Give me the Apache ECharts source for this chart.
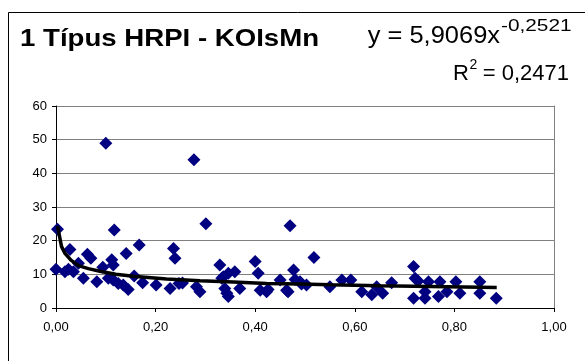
<!DOCTYPE html>
<html>
<head>
<meta charset="utf-8">
<script src="https://cdn.jsdelivr.net/npm/echarts@6/dist/echarts.min.js"></script>
<style>html,body{margin:0;padding:0;background:#fff}#c{width:585px;height:361px}</style>
</head>
<body>
<div id="c"></div>
<script>
const xValues = [0.000,0.003,0.018,0.025,0.028,0.035,0.045,0.055,0.063,0.070,0.082,0.094,0.100,0.105,0.112,0.115,0.115,0.117,0.125,0.135,0.141,0.145,0.157,0.167,0.174,0.201,0.229,0.236,0.239,0.247,0.254,0.277,0.282,0.289,0.301,0.329,0.333,0.336,0.339,0.343,0.346,0.346,0.359,0.369,0.400,0.406,0.410,0.423,0.426,0.450,0.463,0.466,0.470,0.477,0.480,0.490,0.493,0.503,0.518,0.550,0.574,0.592,0.614,0.634,0.644,0.656,0.674,0.718,0.718,0.721,0.727,0.741,0.741,0.748,0.768,0.771,0.785,0.803,0.811,0.851,0.851,0.884];
const yValues = [11.5,23.4,10.8,11.5,17.4,10.8,13.3,8.8,16.0,14.8,7.8,12.1,48.9,8.8,14.3,12.8,8.3,23.2,7.3,6.8,16.2,5.5,9.5,18.7,7.5,6.8,5.8,17.7,14.8,7.3,7.4,44.0,6.3,4.8,25.0,12.8,8.8,9.3,5.8,4.4,3.4,10.3,10.8,5.8,13.8,10.3,5.3,4.8,5.5,8.3,5.3,4.8,24.4,11.3,8.5,7.8,7.1,6.8,15.0,6.3,8.3,8.3,4.8,3.9,6.3,4.4,7.5,12.3,2.9,8.8,8.0,2.9,4.8,7.8,3.4,7.8,4.8,7.8,4.4,7.8,4.4,2.9];
const trendX = [0.003,0.011,0.018,0.030,0.045,0.065,0.088,0.120,0.155,0.222,0.289,0.356,0.423,0.490,0.550,0.651,0.785,0.885];
const trendY = [24.4,18.3,16.2,14.2,12.6,11.7,10.9,10.0,9.4,8.6,8.1,7.7,7.3,7.1,6.9,6.6,6.3,6.1];
const yTicks = [0,10,20,30,40,50,60];
const xTicks = ['0,00','0,20','0,40','0,60','0,80','1,00'];
const titleText = '1 Típus HRPI - KOIsMn';
const eqMain = 'y = 5,9069x';
const eqExp = '-0,2521';
const r2Label = 'R';
const r2Rest = ' = 0,2471';

const FONT = '"Liberation Sans", Arial, sans-serif';
const chart = echarts.init(document.getElementById('c'), null, {renderer: 'canvas'});
const pts = xValues.map((x, i) => [x, yValues[i]]);
const trend = trendX.map((x, i) => [x, trendY[i]]);

chart.setOption({
  animation: false,
  backgroundColor: '#fff',
  textStyle: {fontFamily: FONT},
  grid: {left: 56, top: 106, right: 31, bottom: 53, containLabel: false},
  xAxis: {
    type: 'value', min: 0, max: 1, interval: 0.2,
    axisLine: {onZero: false, lineStyle: {color: '#000', width: 1}},
    axisTick: {show: true, inside: false, length: 4, lineStyle: {color: '#000'}},
    splitLine: {show: false},
    axisLabel: {color: '#000', fontSize: 13, fontFamily: FONT, margin: 13,
      formatter: v => xTicks[Math.round(v / 0.2)]}
  },
  yAxis: [{
    type: 'value', min: 0, max: 60, interval: 10,
    axisLine: {show: true, lineStyle: {color: '#000', width: 1}},
    axisTick: {show: true, inside: false, length: 4, lineStyle: {color: '#000'}},
    splitLine: {show: true, lineStyle: {color: '#808080', width: 1}},
    axisLabel: {color: '#000', fontSize: 13, fontFamily: FONT, margin: 9,
      formatter: v => String(yTicks[Math.round(v / 10)])}
  }, {
    type: 'value', min: 0, max: 60, interval: 10, position: 'right',
    axisLine: {show: true, lineStyle: {color: '#808080', width: 1}},
    axisTick: {show: false}, axisLabel: {show: false}, splitLine: {show: false}
  }],
  series: [{
    type: 'scatter', data: pts, symbol: 'diamond', symbolSize: 13,
    itemStyle: {color: '#000080', opacity: 1}, z: 2
  }, {
    type: 'line', data: trend, smooth: false, showSymbol: false, symbol: 'none',
    lineStyle: {color: '#000', width: 3.5}, z: 3
  }],
  graphic: [
    {type: 'rect', shape: {x: 8.5, y: 12.5, width: 700, height: 500}, style: {fill: null, stroke: '#000', lineWidth: 1}, silent: true},
    {type: 'text', x: 20, y: 27, scaleX: 1.15, style: {text: titleText, font: 'bold 24px ' + FONT, fill: '#000', textAlign: 'left', textVerticalAlign: 'top'}},
    {type: 'text', x: 500, y: 48, scaleX: 1.06, style: {text: eqMain, font: '24px ' + FONT, fill: '#000', textAlign: 'right', textVerticalAlign: 'bottom'}},
    {type: 'text', x: 501, y: 35, scaleX: 1.3, style: {text: eqExp, font: '16px ' + FONT, fill: '#000', textAlign: 'left', textVerticalAlign: 'bottom'}},
    {type: 'text', x: 569, y: 85, style: {text: r2Rest, font: '22px ' + FONT, fill: '#000', textAlign: 'right', textVerticalAlign: 'bottom'}},
    {type: 'text', x: 469, y: 85, style: {text: r2Label, font: '22px ' + FONT, fill: '#000', textAlign: 'right', textVerticalAlign: 'bottom'}},
    {type: 'text', x: 469.5, y: 72, style: {text: '2', font: '14px ' + FONT, fill: '#000', textAlign: 'left', textVerticalAlign: 'bottom'}}
  ]
});
</script>
</body>
</html>
